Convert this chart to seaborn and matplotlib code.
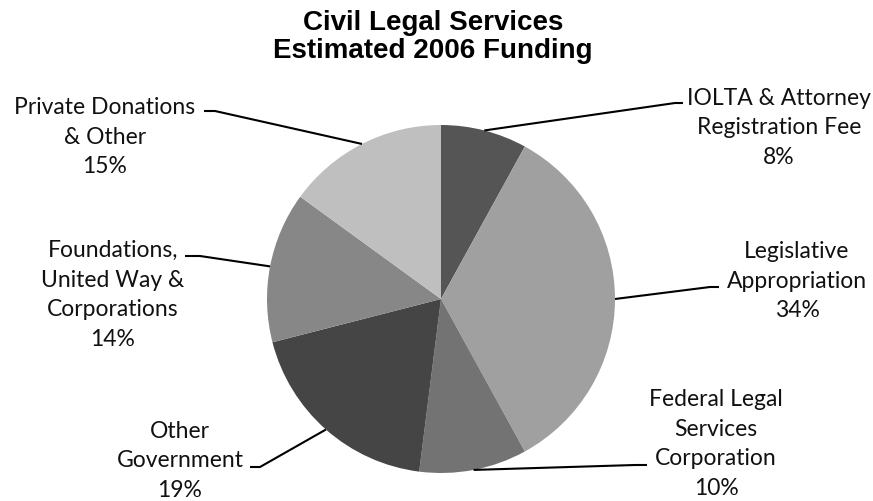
import numpy as np
import matplotlib
matplotlib.use("Agg")
import matplotlib.pyplot as plt
from matplotlib.font_manager import FontProperties
import seaborn as sns

# ---- data ----
categories = ["IOLTA & Attorney\nRegistration Fee", "Legislative\nAppropriation",
              "Federal Legal\nServices\nCorporation", "Other\nGovernment",
              "Foundations,\nUnited Way &\nCorporations", "Private Donations\n& Other"]
shares = [8, 34, 10, 19, 14, 15]
colors = ["#555555", "#a0a0a0", "#737373", "#454545", "#878787", "#bfbfbf"]

# ---- layout (pixel coordinates, y measured from top) ----
W, H = 873, 502
center_px = (441, 300)
radius_px = 174
label_centers = [(779, 128), (797, 281), (716, 444), (180, 461), (113, 295), (105, 137)]
leader_ends = [(683, 104), (719, 288), (647, 466), (250, 468), (185, 257), (204, 112)]
leader_elbows = [(675, 104), (710, 288), (635, 466), (260, 468), (200, 257), (215, 112)]

sns.set_theme(style="white")
plt.rcParams['font.family'] = ['Lato', 'DejaVu Sans']

fig = plt.figure(figsize=(W / 100, H / 100), dpi=100)
ax = fig.add_axes([0, 0, 1, 1])

def fy(y):
    return H - y

wedges, _ = ax.pie(shares, colors=colors, startangle=90, counterclock=False,
                   center=(center_px[0], fy(center_px[1])), radius=radius_px,
                   wedgeprops=dict(linewidth=0))
ax.set_xlim(0, W)
ax.set_ylim(0, H)
ax.set_aspect('equal')
ax.axis('off')

for w, cat, val, (lx, ly), (ex, ey), (bx, by) in zip(wedges, categories, shares,
                                                     label_centers, leader_ends, leader_elbows):
    ang = np.deg2rad((w.theta1 + w.theta2) / 2)
    axp = center_px[0] + radius_px * np.cos(ang)
    ayp = fy(center_px[1]) + radius_px * np.sin(ang)
    ax.plot([axp, bx, ex], [ayp, fy(by), fy(ey)], color="black", lw=1.5,
            solid_capstyle="butt", zorder=3)
    ax.text(lx, fy(ly), f"{cat}\n{val}%", ha="center", va="center",
            fontsize=16.5, color="#111111", linespacing=1.5)

title_fp = FontProperties(family=["Liberation Sans", "DejaVu Sans"], weight="bold", size=20)
fig.text(433 / W, 1 - 37 / H, "Civil Legal Services\nEstimated 2006 Funding",
         ha="center", va="center", fontproperties=title_fp, linespacing=1.15,
         color="black")

fig.savefig("out.png", dpi=100, facecolor="white")
